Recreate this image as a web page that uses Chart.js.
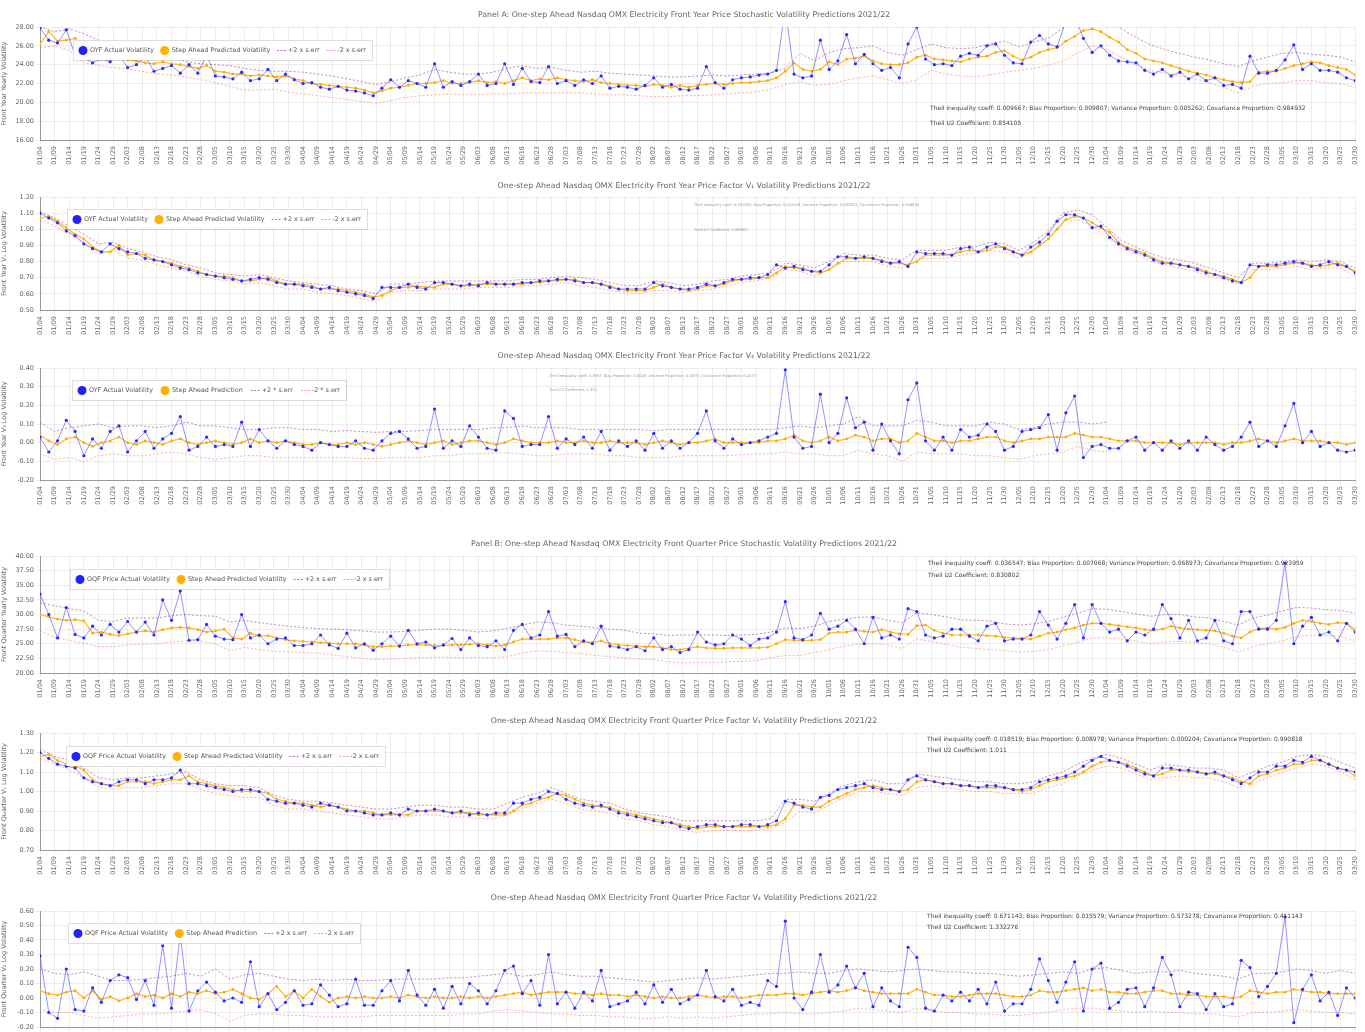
<!DOCTYPE html>
<html lang="en">
<head>
<meta charset="UTF-8">
<title>Nasdaq OMX Electricity Volatility Predictions 2021/22</title>
<script src="https://cdn.jsdelivr.net/npm/chart.js"></script>
<style>
  html, body { margin: 0; padding: 0; background: #fff; overflow: hidden; }
  body { width: 1365px; height: 1032px; position: relative; }
  canvas { position: absolute; left: 0; }
</style>
</head>
<body>
<canvas id="c1" width="1365" height="170" style="top:0px"></canvas>
<canvas id="c2" width="1365" height="170" style="top:170px"></canvas>
<canvas id="c3" width="1365" height="170" style="top:340px"></canvas>
<canvas id="c4" width="1365" height="175" style="top:528px"></canvas>
<canvas id="c5" width="1365" height="175" style="top:705px"></canvas>
<canvas id="c6" width="1365" height="175" style="top:882px"></canvas>

<script>
// x axis: days since 2021-01-04, a tick every 5 days
const tickLabels = ['01/04','01/09','01/14','01/19','01/24','01/29','02/03','02/08','02/13','02/18','02/23','02/28',
  '03/05','03/10','03/15','03/20','03/25','03/30','04/04','04/09','04/14','04/19','04/24','04/29','05/04','05/09',
  '05/14','05/19','05/24','05/29','06/03','06/08','06/13','06/18','06/23','06/28','07/03','07/08','07/13','07/18',
  '07/23','07/28','08/02','08/07','08/12','08/17','08/22','08/27','09/01','09/06','09/11','09/16','09/21','09/26',
  '10/01','10/06','10/11','10/16','10/21','10/26','10/31','11/05','11/10','11/15','11/20','11/25','11/30','12/05',
  '12/10','12/15','12/20','12/25','12/30','01/04','01/09','01/14','01/19','01/24','01/29','02/03','02/08','02/13',
  '02/18','02/23','02/28','03/05','03/10','03/15','03/20','03/25','03/30'];
const dayStep = 3;   // actual / predicted sampled every 3 days
const bandStep = 5;  // error bands sampled every 5 days

// ---- Panel A: front year, stochastic volatility
const yearSvActual = [
  27.9, 26.6, 26.3, 27.7, 25.0, 24.7, 24.2, 24.6, 24.3, 25.0,
  23.7, 24.0, 24.9, 23.3, 23.6, 23.9, 23.1, 24.0, 23.1, 25.0,
  22.8, 22.7, 22.5, 23.2, 22.3, 22.5, 23.5, 22.3, 23.0, 22.4,
  22.0, 22.1, 21.6, 21.4, 21.7, 21.3, 21.2, 21.0, 20.7, 21.5,
  22.4, 21.6, 22.3, 22.0, 21.6, 24.1, 21.6, 22.2, 21.8, 22.2,
  23.0, 21.8, 22.0, 24.1, 21.9, 23.6, 22.2, 22.1, 23.8, 22.0,
  22.3, 21.8, 22.4, 22.0, 22.8, 21.5, 21.7, 21.6, 21.4, 21.8,
  22.6, 21.6, 21.9, 21.4, 21.3, 21.5, 23.8, 22.1, 21.5, 22.4,
  22.6, 22.7, 22.9, 23.0, 23.4, 30.0, 23.0, 22.6, 22.8, 26.6,
  23.5, 24.4, 27.2, 24.1, 25.1, 24.1, 23.4, 23.7, 22.6, 26.2,
  28.0, 24.6, 24.0, 24.1, 23.9, 24.9, 25.2, 25.0, 26.0, 26.2,
  25.0, 24.2, 24.1, 26.4, 27.1, 26.2, 25.9, 28.6, 29.2, 26.8,
  25.3, 26.0, 25.0, 24.4, 24.3, 24.2, 23.4, 23.0, 23.5, 22.8,
  23.2, 22.5, 23.0, 22.3, 22.6, 21.8, 21.9, 21.5, 24.9, 23.1,
  23.1, 23.4, 24.5, 26.1, 23.5, 24.1, 23.4, 23.4, 23.2, 22.6,
  22.3];
const yearSvPred = [
  26.2, 27.5, 26.5, 26.6, 26.8, 26.0, 25.0, 24.8, 24.6, 24.6,
  24.5, 24.4, 24.2, 24.1, 24.3, 24.1, 24.0, 23.8, 23.6, 23.9,
  23.3, 23.2, 23.0, 23.0, 22.8, 22.9, 22.8, 22.7, 22.8, 22.5,
  22.3, 22.0, 21.9, 21.8, 21.7, 21.6, 21.5, 21.3, 21.0, 21.2,
  21.5, 21.6, 21.8, 22.0, 22.0, 22.1, 22.3, 22.0, 22.0, 22.1,
  22.3, 22.1, 22.2, 22.0, 22.3, 22.6, 22.3, 22.5, 22.4, 22.6,
  22.4, 22.3, 22.2, 22.4, 22.1, 22.0, 21.9, 21.8, 21.8, 21.7,
  21.9, 21.8, 21.6, 21.8, 21.6, 21.8, 21.9, 22.0, 21.9, 22.0,
  22.1, 22.1, 22.2, 22.3, 22.6, 23.3, 24.2, 23.5, 23.3, 23.5,
  24.3, 24.0, 24.6, 24.7, 24.9, 24.4, 24.1, 24.0, 24.0, 24.2,
  24.8, 25.0, 24.6, 24.5, 24.4, 24.3, 24.6, 24.8, 24.9, 25.3,
  25.5, 24.9, 24.5, 24.8, 25.3, 25.6, 25.8, 26.5, 27.0, 27.6,
  27.8, 27.5, 26.9, 26.4, 25.6, 25.2, 24.6, 24.4, 24.2, 23.9,
  23.6, 23.3, 23.1, 22.9, 22.6, 22.4, 22.2, 22.1, 22.2, 23.2,
  23.3, 23.3, 23.6, 23.9, 24.1, 24.3, 24.2, 23.9, 23.7, 23.5,
  22.9];
const yearSvUpper = [
  28.0, 27.5, 27.8, 27.3, 26.6, 26.3, 26.0, 25.6, 25.2, 24.8,
  24.3, 24.1, 24.0, 23.9, 23.6, 23.4, 23.3, 23.3, 23.2, 23.0,
  22.8, 22.5, 22.2, 21.9, 22.2, 22.6, 22.9, 23.5, 23.2, 23.0,
  23.0, 23.2, 23.6, 23.9, 23.6, 23.7, 23.4, 23.2, 23.3, 23.1,
  23.0, 22.9, 22.8, 22.7, 22.7, 22.8, 22.9, 22.8, 22.9, 23.0,
  23.1, 23.6, 25.2, 24.4, 25.3, 25.7, 25.8, 26.0, 25.3, 25.0,
  25.6, 26.2, 25.8, 25.7, 25.8, 26.2, 26.5, 25.9, 26.4, 26.8,
  27.9, 28.8, 29.1, 28.7, 27.8, 26.9, 26.1, 25.6, 25.2, 24.8,
  24.5, 24.1, 23.8, 24.4, 24.8, 25.2, 25.3, 25.1, 25.0, 24.8,
  24.3];
const yearSvLower = [
  25.8, 26.0, 25.5, 24.2, 23.9, 23.7, 23.5, 23.3, 23.0, 22.9,
  22.7, 22.4, 22.1, 21.7, 21.3, 21.3, 21.4, 21.1, 20.9, 20.7,
  20.5, 20.3, 20.1, 19.9, 20.2, 20.5, 20.7, 20.8, 20.9, 20.8,
  20.8, 20.9, 20.9, 21.0, 21.0, 21.0, 21.0, 21.0, 20.9, 20.8,
  20.8, 20.7, 20.6, 20.6, 20.7, 20.7, 20.8, 20.9, 21.0, 21.1,
  21.4, 21.9, 22.2, 21.8, 21.9, 22.3, 22.6, 22.8, 22.4, 22.0,
  22.4, 23.4, 23.0, 22.8, 22.7, 22.9, 23.2, 23.4, 23.6, 23.9,
  24.4, 25.2, 26.0, 25.6, 24.8, 24.0, 23.4, 23.1, 22.8, 22.5,
  22.1, 21.6, 21.0, 21.7, 22.0, 22.1, 22.3, 22.3, 22.1, 22.0,
  21.6];

// ---- front year, factor V1
const yearV1Actual = [
  1.10, 1.07, 1.04, 0.99, 0.96, 0.91, 0.88, 0.86, 0.91, 0.88,
  0.86, 0.85, 0.82, 0.81, 0.80, 0.78, 0.76, 0.75, 0.73, 0.72,
  0.71, 0.70, 0.69, 0.68, 0.69, 0.70, 0.69, 0.67, 0.66, 0.66,
  0.65, 0.64, 0.63, 0.64, 0.62, 0.61, 0.60, 0.59, 0.57, 0.64,
  0.64, 0.64, 0.66, 0.64, 0.63, 0.67, 0.67, 0.66, 0.65, 0.66,
  0.65, 0.67, 0.66, 0.66, 0.66, 0.67, 0.67, 0.68, 0.68, 0.69,
  0.69, 0.68, 0.67, 0.67, 0.66, 0.64, 0.63, 0.63, 0.63, 0.63,
  0.67, 0.65, 0.64, 0.63, 0.63, 0.64, 0.66, 0.65, 0.67, 0.69,
  0.69, 0.70, 0.70, 0.72, 0.78, 0.76, 0.77, 0.75, 0.74, 0.74,
  0.78, 0.83, 0.83, 0.82, 0.83, 0.82, 0.80, 0.79, 0.80, 0.77,
  0.86, 0.85, 0.85, 0.85, 0.84, 0.88, 0.89, 0.86, 0.89, 0.91,
  0.88, 0.86, 0.84, 0.89, 0.92, 0.97, 1.05, 1.09, 1.09, 1.07,
  1.01, 1.02, 0.95, 0.91, 0.88, 0.86, 0.84, 0.81, 0.79, 0.79,
  0.78, 0.77, 0.75, 0.73, 0.72, 0.70, 0.68, 0.67, 0.78, 0.77,
  0.78, 0.78, 0.79, 0.80, 0.79, 0.77, 0.78, 0.80, 0.78, 0.77,
  0.73];
const yearV1Pred = [
  1.07, 1.08, 1.05, 1.01, 0.97, 0.94, 0.89, 0.86, 0.86, 0.90,
  0.84, 0.85, 0.84, 0.81, 0.80, 0.79, 0.77, 0.76, 0.74, 0.72,
  0.71, 0.71, 0.70, 0.68, 0.68, 0.69, 0.70, 0.68, 0.66, 0.66,
  0.66, 0.65, 0.63, 0.63, 0.63, 0.62, 0.61, 0.60, 0.58, 0.59,
  0.62, 0.64, 0.64, 0.65, 0.64, 0.64, 0.66, 0.66, 0.65, 0.65,
  0.66, 0.66, 0.66, 0.66, 0.66, 0.66, 0.67, 0.67, 0.68, 0.68,
  0.69, 0.69, 0.67, 0.67, 0.66, 0.65, 0.63, 0.62, 0.62, 0.62,
  0.64, 0.66, 0.64, 0.63, 0.62, 0.63, 0.65, 0.65, 0.66, 0.68,
  0.69, 0.69, 0.70, 0.70, 0.73, 0.77, 0.76, 0.76, 0.74, 0.73,
  0.75, 0.79, 0.82, 0.82, 0.82, 0.82, 0.81, 0.79, 0.79, 0.78,
  0.80, 0.84, 0.84, 0.84, 0.84, 0.86, 0.87, 0.86, 0.87, 0.89,
  0.89, 0.86, 0.84, 0.86, 0.90, 0.94, 1.00, 1.06, 1.08, 1.07,
  1.04, 1.01, 0.98, 0.92, 0.89, 0.87, 0.85, 0.82, 0.80, 0.79,
  0.78, 0.77, 0.76, 0.74, 0.72, 0.71, 0.69, 0.67, 0.70, 0.77,
  0.77, 0.77, 0.78, 0.79, 0.79, 0.78, 0.77, 0.78, 0.79, 0.77,
  0.74];
const yearV1Upper = [
  1.11, 1.07, 1.02, 0.97, 0.91, 0.92, 0.88, 0.86, 0.83, 0.81,
  0.78, 0.76, 0.73, 0.72, 0.71, 0.72, 0.70, 0.68, 0.67, 0.66,
  0.65, 0.63, 0.62, 0.60, 0.66, 0.66, 0.67, 0.68, 0.68, 0.68,
  0.68, 0.68, 0.68, 0.69, 0.69, 0.70, 0.71, 0.70, 0.69, 0.67,
  0.65, 0.65, 0.68, 0.67, 0.65, 0.66, 0.68, 0.69, 0.71, 0.72,
  0.73, 0.79, 0.78, 0.76, 0.80, 0.85, 0.84, 0.84, 0.82, 0.81,
  0.87, 0.87, 0.87, 0.89, 0.89, 0.92, 0.91, 0.87, 0.92, 0.99,
  1.10, 1.12, 1.09, 1.01, 0.93, 0.89, 0.85, 0.82, 0.81, 0.79,
  0.76, 0.73, 0.70, 0.79, 0.79, 0.80, 0.81, 0.80, 0.81, 0.80,
  0.76];
const yearV1Lower = [
  1.06, 1.02, 0.97, 0.92, 0.85, 0.87, 0.82, 0.81, 0.78, 0.76,
  0.74, 0.71, 0.69, 0.68, 0.66, 0.67, 0.65, 0.63, 0.63, 0.61,
  0.60, 0.59, 0.57, 0.55, 0.61, 0.62, 0.62, 0.63, 0.63, 0.63,
  0.64, 0.64, 0.64, 0.65, 0.65, 0.66, 0.67, 0.65, 0.64, 0.62,
  0.61, 0.60, 0.62, 0.62, 0.61, 0.62, 0.63, 0.65, 0.67, 0.68,
  0.70, 0.75, 0.74, 0.71, 0.75, 0.80, 0.80, 0.80, 0.77, 0.76,
  0.82, 0.82, 0.82, 0.84, 0.85, 0.87, 0.86, 0.82, 0.86, 0.94,
  1.05, 1.06, 1.02, 0.95, 0.88, 0.85, 0.80, 0.78, 0.76, 0.74,
  0.71, 0.69, 0.66, 0.75, 0.75, 0.76, 0.77, 0.75, 0.76, 0.76,
  0.71];

// ---- front year, factor V2 (bands stop at 01/04/22)
const yearV2Actual = [
  0.03, -0.05, 0.01, 0.12, 0.06, -0.07, 0.02, -0.03, 0.06, 0.09,
  -0.05, 0.01, 0.06, -0.03, 0.02, 0.05, 0.14, -0.04, -0.02, 0.03,
  -0.02, -0.01, -0.02, 0.11, -0.02, 0.07, 0.01, -0.03, 0.01, -0.01,
  -0.02, -0.04, 0.00, -0.01, -0.02, -0.02, 0.01, -0.03, -0.04, 0.01,
  0.05, 0.06, 0.02, -0.03, -0.02, 0.18, -0.03, 0.01, -0.02, 0.09,
  0.03, -0.03, -0.04, 0.17, 0.13, -0.02, -0.01, -0.01, 0.14, -0.03,
  0.02, -0.01, 0.03, -0.03, 0.06, -0.04, 0.01, -0.02, 0.01, -0.04,
  0.05, -0.03, 0.01, -0.03, 0.00, 0.05, 0.17, 0.01, -0.03, 0.02,
  -0.01, 0.00, 0.01, 0.03, 0.05, 0.39, 0.03, -0.03, -0.02, 0.26,
  0.00, 0.05, 0.24, 0.08, 0.11, -0.04, 0.10, 0.01, -0.06, 0.23,
  0.32, 0.01, -0.04, 0.03, -0.04, 0.07, 0.03, 0.04, 0.10, 0.06,
  -0.04, -0.02, 0.06, 0.07, 0.08, 0.15, -0.04, 0.16, 0.25, -0.08,
  -0.02, -0.01, -0.03, -0.03, 0.01, 0.03, -0.04, 0.00, -0.04, 0.01,
  -0.03, 0.01, -0.04, 0.03, -0.01, -0.04, -0.02, 0.03, 0.11, -0.02,
  0.01, -0.02, 0.09, 0.21, 0.00, 0.06, -0.02, 0.00, -0.04, -0.05,
  -0.04];
const yearV2Pred = [
  0.04, 0.01, -0.01, 0.02, 0.03, 0.00, -0.02, 0.00, 0.01, 0.03,
  0.00, -0.01, 0.01, 0.00, -0.01, 0.01, 0.02, 0.00, -0.01, 0.00,
  0.01, 0.00, -0.01, 0.00, 0.02, 0.00, 0.01, 0.00, 0.01, 0.00,
  -0.01, -0.01, 0.00, -0.01, -0.01, 0.00, -0.01, 0.00, -0.01, -0.02,
  -0.01, 0.00, 0.01, 0.00, -0.01, 0.00, 0.01, -0.01, 0.00, 0.01,
  0.01, 0.00, -0.01, 0.00, 0.02, 0.01, 0.00, 0.00, 0.00, 0.01,
  0.00, 0.00, 0.01, 0.00, 0.00, 0.01, 0.00, 0.00, 0.00, -0.01,
  0.00, 0.01, 0.00, -0.01, 0.00, 0.00, 0.01, 0.02, 0.00, 0.00,
  0.00, 0.00, 0.00, 0.01, 0.01, 0.02, 0.04, 0.01, 0.00, 0.01,
  0.03, 0.01, 0.02, 0.04, 0.03, 0.01, 0.02, 0.02, 0.00, 0.01,
  0.05, 0.03, 0.01, 0.01, 0.00, 0.01, 0.01, 0.02, 0.03, 0.03,
  0.01, 0.00, 0.01, 0.02, 0.02, 0.03, 0.03, 0.03, 0.05, 0.04,
  0.03, 0.03, 0.02, 0.01, 0.01, 0.01, 0.00, 0.00, 0.00, 0.00,
  -0.01, 0.00, 0.00, 0.00, 0.00, -0.01, 0.00, 0.00, 0.01, 0.02,
  0.01, 0.00, 0.01, 0.02, 0.01, 0.01, 0.01, 0.00, 0.00, -0.01,
  0.00];
const yearV2Upper = [
  0.11, 0.06, 0.08, 0.09, 0.10, 0.08, 0.09, 0.09, 0.08, 0.09,
  0.11, 0.09, 0.09, 0.08, 0.07, 0.07, 0.08, 0.08, 0.07, 0.07,
  0.06, 0.065, 0.06, 0.055, 0.06, 0.06, 0.065, 0.07, 0.07, 0.07,
  0.07, 0.08, 0.08, 0.09, 0.08, 0.08, 0.08, 0.07, 0.07, 0.07,
  0.07, 0.07, 0.065, 0.07, 0.07, 0.07, 0.07, 0.07, 0.07, 0.07,
  0.07, 0.08, 0.09, 0.08, 0.09, 0.10, 0.14, 0.09, 0.09, 0.09,
  0.12, 0.11, 0.09, 0.09, 0.09, 0.11, 0.10, 0.07, 0.08, 0.10,
  0.11, 0.11, 0.10, 0.11];
const yearV2Lower = [
  -0.06, -0.09, -0.08, -0.10, -0.07, -0.06, -0.07, -0.07, -0.06, -0.05,
  -0.06, -0.08, -0.09, -0.08, -0.07, -0.07, -0.08, -0.08, -0.08, -0.08,
  -0.08, -0.08, -0.085, -0.085, -0.08, -0.08, -0.08, -0.07, -0.07, -0.06,
  -0.06, -0.055, -0.055, -0.06, -0.07, -0.07, -0.06, -0.06, -0.06, -0.07,
  -0.07, -0.08, -0.08, -0.08, -0.07, -0.07, -0.07, -0.07, -0.065, -0.06,
  -0.06, -0.05, -0.06, -0.06, -0.07, -0.07, -0.04, -0.06, -0.07, -0.10,
  -0.05, -0.06, -0.06, -0.06, -0.07, -0.07, -0.08, -0.09, -0.07, -0.06,
  -0.05, -0.02, -0.04, -0.05];

// ---- Panel B: front quarter, stochastic volatility
const qtrSvActual = [
  33.5, 30.0, 26.0, 31.2, 26.6, 26.0, 28.0, 26.5, 28.3, 27.0,
  28.8, 27.0, 28.7, 26.5, 32.5, 29.0, 34.0, 25.6, 25.7, 28.3,
  26.3, 25.8, 25.7, 30.0, 26.0, 26.5, 25.0, 25.8, 26.0, 24.7,
  24.7, 25.0, 26.5, 24.8, 24.2, 26.8, 24.3, 25.0, 23.9, 25.0,
  26.3, 24.6, 27.3, 25.0, 25.3, 24.3, 24.8, 25.9, 24.0, 26.0,
  24.7, 24.5, 25.5, 24.0, 27.3, 28.3, 26.0, 26.5, 30.5, 26.3,
  26.6, 24.5, 25.5, 25.0, 28.0, 24.6, 24.4, 24.0, 24.5, 23.8,
  26.0, 24.0, 24.5, 23.5, 24.0, 27.0, 25.3, 24.8, 25.0, 26.5,
  25.8, 24.7, 25.8, 26.0, 27.0, 32.2, 26.0, 25.7, 26.5, 30.2,
  27.5, 28.0, 29.0, 27.5, 25.0, 29.5, 26.0, 26.5, 25.8, 31.0,
  30.5, 26.5, 26.0, 26.3, 27.5, 27.5, 26.3, 25.5, 28.0, 28.5,
  25.5, 25.8, 25.8, 26.5, 30.5, 28.2, 25.8, 28.5, 31.7, 26.0,
  31.7, 28.5, 27.0, 27.5, 25.5, 27.0, 26.5, 27.5, 31.7, 29.3,
  26.0, 29.0, 25.5, 26.0, 29.0, 25.5, 25.0, 30.5, 30.5, 27.5,
  27.5, 29.0, 38.8, 25.0, 28.0, 29.5, 26.5, 27.0, 25.5, 28.5,
  27.0];
const qtrSvPred = [
  30.0, 29.6, 29.2, 29.0, 29.1, 28.9, 26.8, 27.0, 26.6, 26.4,
  26.7, 27.0, 27.2, 27.0, 27.4, 27.7, 27.8, 27.7, 27.4, 27.0,
  27.2, 27.5, 26.0, 25.8, 26.8, 26.3, 26.4, 26.0, 25.7, 25.5,
  25.4, 25.3, 25.2, 25.1, 25.0, 25.0, 25.0, 24.8, 24.5, 24.5,
  24.6, 24.6, 24.8, 24.8, 24.8, 24.7, 24.7, 24.8, 24.8, 24.9,
  25.0, 24.8, 24.6, 24.8, 25.3, 25.8, 25.8, 25.8, 25.8, 26.0,
  26.0, 25.7, 25.3, 25.2, 25.5, 25.0, 24.8, 24.7, 24.6, 24.5,
  24.5, 24.3, 24.0, 24.0, 24.2, 24.5, 24.3, 24.2, 24.2, 24.3,
  24.3, 24.3, 24.3, 24.4, 25.0, 25.7, 25.6, 25.5, 25.6, 25.7,
  26.8, 27.0, 27.0, 27.3, 27.1, 27.0, 27.4, 27.0, 26.7, 26.6,
  28.1, 28.2, 27.3, 26.8, 26.5, 26.5, 26.5, 26.5, 26.4, 26.3,
  26.1, 26.0, 25.9, 25.8, 26.3, 26.8, 27.0, 27.4, 27.7, 28.2,
  28.5, 28.5, 28.3, 28.1, 27.9, 27.7, 27.4, 27.3, 27.5, 28.0,
  27.7, 27.5, 27.4, 27.3, 27.2, 26.8, 26.3, 26.0, 27.0, 27.6,
  27.7, 27.5, 27.8, 28.5, 29.0, 28.8, 28.5, 28.3, 28.6, 28.5,
  27.5];
const qtrSvUpper = [
  32.0, 31.5, 31.0, 30.6, 29.0, 28.8, 29.4, 29.4, 29.4, 29.8,
  30.0, 29.8, 29.7, 28.7, 29.0, 28.6, 28.3, 28.0, 27.8, 27.6,
  27.5, 27.4, 27.2, 27.0, 27.0, 27.1, 27.3, 27.5, 27.5, 27.3,
  27.0, 27.2, 27.6, 28.2, 28.7, 28.6, 28.2, 28.0, 27.7, 27.5,
  27.3, 26.8, 26.7, 26.4, 26.5, 26.5, 26.5, 26.4, 26.5, 26.6,
  27.0, 27.7, 27.6, 28.0, 28.8, 29.2, 29.5, 29.6, 29.0, 28.6,
  30.3, 30.0, 29.6, 29.1, 29.0, 28.9, 28.4, 28.2, 28.4, 28.8,
  29.5, 30.2, 31.0, 30.9, 30.5, 30.1, 29.7, 30.0, 30.0, 29.6,
  29.4, 28.8, 28.2, 29.4, 29.9, 30.6, 31.2, 31.1, 30.8, 30.7,
  30.2];
const qtrSvLower = [
  27.2, 26.1, 25.6, 25.1, 24.5, 24.5, 24.8, 24.9, 25.0, 25.3,
  25.5, 25.5, 25.0, 23.8, 24.4, 24.0, 23.7, 23.6, 23.5, 23.4,
  23.1, 22.8, 22.5, 22.3, 22.4, 22.5, 22.6, 22.7, 22.7, 22.6,
  22.7, 22.6, 22.8, 23.4, 23.8, 23.7, 23.5, 23.3, 23.0, 22.8,
  22.6, 22.4, 22.3, 21.9, 21.7, 21.8, 21.8, 21.9, 22.0, 22.1,
  22.6, 23.0, 23.0, 23.5, 24.0, 24.6, 24.9, 25.0, 24.8, 24.2,
  25.8, 25.4, 24.9, 24.4, 24.2, 24.0, 23.8, 23.6, 23.7, 24.0,
  24.6, 25.2, 26.0, 26.0, 25.8, 25.5, 25.0, 25.3, 25.4, 25.2,
  25.0, 24.4, 23.6, 24.5, 25.0, 25.5, 26.2, 26.5, 26.4, 26.3,
  25.3];

// ---- front quarter, factor V1
const qtrV1Actual = [
  1.20, 1.17, 1.14, 1.13, 1.12, 1.07, 1.05, 1.04, 1.03, 1.05,
  1.06, 1.06, 1.04, 1.06, 1.06, 1.07, 1.11, 1.04, 1.04, 1.03,
  1.02, 1.01, 1.00, 1.01, 1.01, 1.00, 0.96, 0.95, 0.94, 0.94,
  0.93, 0.92, 0.94, 0.93, 0.92, 0.90, 0.90, 0.89, 0.88, 0.88,
  0.89, 0.88, 0.91, 0.90, 0.90, 0.91, 0.90, 0.89, 0.90, 0.88,
  0.89, 0.88, 0.89, 0.89, 0.94, 0.94, 0.96, 0.97, 1.00, 0.99,
  0.96, 0.94, 0.93, 0.92, 0.93, 0.91, 0.89, 0.88, 0.87, 0.86,
  0.85, 0.84, 0.84, 0.82, 0.81, 0.82, 0.83, 0.83, 0.82, 0.82,
  0.83, 0.83, 0.82, 0.83, 0.85, 0.95, 0.94, 0.92, 0.91, 0.97,
  0.98, 1.01, 1.02, 1.03, 1.04, 1.02, 1.01, 1.01, 1.00, 1.06,
  1.08, 1.06, 1.05, 1.04, 1.04, 1.03, 1.03, 1.02, 1.03, 1.03,
  1.02, 1.01, 1.01, 1.02, 1.05, 1.06, 1.07, 1.08, 1.10, 1.13,
  1.16, 1.18, 1.16, 1.15, 1.13, 1.11, 1.09, 1.08, 1.12, 1.12,
  1.11, 1.11, 1.10, 1.09, 1.10, 1.08, 1.06, 1.04, 1.07, 1.10,
  1.10, 1.13, 1.13, 1.16, 1.15, 1.18, 1.16, 1.14, 1.12, 1.11,
  1.10];
const qtrV1Pred = [
  1.18, 1.19, 1.16, 1.14, 1.13, 1.11, 1.06, 1.04, 1.03, 1.03,
  1.05, 1.05, 1.05, 1.04, 1.05, 1.06, 1.06, 1.08, 1.05, 1.04,
  1.03, 1.02, 1.01, 1.00, 1.00, 1.00, 0.99, 0.96, 0.95, 0.94,
  0.94, 0.93, 0.92, 0.93, 0.92, 0.91, 0.90, 0.90, 0.89, 0.88,
  0.88, 0.88, 0.88, 0.90, 0.90, 0.90, 0.90, 0.89, 0.89, 0.89,
  0.88, 0.88, 0.88, 0.88, 0.90, 0.93, 0.94, 0.96, 0.97, 0.99,
  0.98, 0.96, 0.94, 0.93, 0.92, 0.92, 0.90, 0.89, 0.88, 0.87,
  0.86, 0.85, 0.84, 0.83, 0.82, 0.81, 0.82, 0.82, 0.82, 0.82,
  0.82, 0.82, 0.82, 0.82, 0.83, 0.86, 0.93, 0.93, 0.92, 0.92,
  0.95, 0.97, 0.99, 1.01, 1.02, 1.03, 1.02, 1.01, 1.00, 1.01,
  1.05, 1.06, 1.05, 1.04, 1.04, 1.03, 1.03, 1.02, 1.02, 1.02,
  1.02, 1.01, 1.00, 1.01, 1.03, 1.05, 1.06, 1.07, 1.08, 1.10,
  1.13, 1.15, 1.16, 1.15, 1.14, 1.12, 1.10, 1.08, 1.09, 1.11,
  1.11, 1.10, 1.10, 1.09, 1.09, 1.08, 1.07, 1.05, 1.04, 1.08,
  1.09, 1.11, 1.12, 1.14, 1.14, 1.16, 1.16, 1.14, 1.12, 1.11,
  1.08];
const qtrV1Upper = [
  1.22, 1.18, 1.16, 1.12, 1.07, 1.06, 1.07, 1.07, 1.08, 1.09,
  1.10, 1.06, 1.04, 1.03, 1.03, 1.02, 0.98, 0.96, 0.95, 0.95,
  0.94, 0.93, 0.92, 0.91, 0.91, 0.92, 0.93, 0.93, 0.92, 0.92,
  0.91, 0.91, 0.94, 0.97, 0.99, 1.02, 0.99, 0.96, 0.95, 0.94,
  0.91, 0.89, 0.88, 0.87, 0.85, 0.85, 0.85, 0.85, 0.85, 0.85,
  0.86, 0.96, 0.96, 0.95, 0.99, 1.03, 1.05, 1.06, 1.04, 1.04,
  1.09, 1.08, 1.07, 1.06, 1.05, 1.05, 1.04, 1.04, 1.05, 1.08,
  1.10, 1.14, 1.17, 1.19, 1.17, 1.14, 1.11, 1.14, 1.13, 1.12,
  1.12, 1.11, 1.07, 1.10, 1.13, 1.15, 1.18, 1.19, 1.18, 1.15,
  1.12];
const qtrV1Lower = [
  1.17, 1.14, 1.11, 1.07, 1.02, 1.01, 1.02, 1.02, 1.03, 1.04,
  1.04, 1.01, 0.99, 0.98, 0.97, 0.97, 0.93, 0.91, 0.91, 0.90,
  0.89, 0.88, 0.87, 0.86, 0.86, 0.87, 0.88, 0.88, 0.87, 0.87,
  0.86, 0.86, 0.88, 0.91, 0.94, 0.96, 0.94, 0.91, 0.90, 0.89,
  0.86, 0.85, 0.83, 0.82, 0.80, 0.79, 0.80, 0.80, 0.80, 0.80,
  0.81, 0.84, 0.90, 0.89, 0.93, 0.97, 1.00, 1.00, 0.99, 0.98,
  1.02, 1.03, 1.02, 1.01, 1.00, 1.00, 0.99, 0.99, 0.99, 1.02,
  1.04, 1.08, 1.11, 1.13, 1.12, 1.09, 1.06, 1.07, 1.08, 1.07,
  1.07, 1.05, 1.02, 1.04, 1.07, 1.10, 1.12, 1.14, 1.13, 1.10,
  1.06];

// ---- front quarter, factor V2
const qtrV2Actual = [
  0.29, -0.10, -0.14, 0.20, -0.08, -0.09, 0.07, -0.03, 0.12, 0.16,
  0.14, -0.01, 0.12, -0.05, 0.36, -0.07, 0.44, -0.09, 0.05, 0.11,
  0.04, -0.02, 0.00, -0.03, 0.25, -0.06, 0.03, -0.08, -0.03, 0.05,
  -0.05, -0.04, 0.09, 0.02, -0.06, -0.04, 0.13, -0.05, -0.05, 0.05,
  0.12, -0.02, 0.19, 0.02, -0.05, 0.06, -0.07, 0.08, -0.04, 0.10,
  0.05, -0.04, 0.05, 0.19, 0.22, 0.03, 0.12, -0.05, 0.30, -0.04,
  0.04, -0.07, 0.04, -0.02, 0.19, -0.06, -0.04, -0.02, 0.04, -0.04,
  0.09, -0.03, 0.06, -0.04, -0.01, 0.02, 0.19, 0.01, -0.02, 0.06,
  -0.05, -0.03, -0.05, 0.12, 0.08, 0.53, 0.00, -0.08, 0.04, 0.30,
  0.04, 0.09, 0.22, 0.07, 0.17, -0.06, 0.07, -0.02, -0.06, 0.35,
  0.28, -0.07, -0.09, 0.02, -0.02, 0.04, -0.02, 0.06, -0.04, 0.11,
  -0.09, -0.04, -0.04, 0.06, 0.27, 0.12, -0.03, 0.11, 0.25, -0.09,
  0.20, 0.24, -0.07, -0.03, 0.06, 0.07, -0.06, 0.07, 0.28, 0.16,
  -0.06, 0.04, 0.03, -0.08, 0.03, -0.06, -0.04, 0.26, 0.21, 0.01,
  0.08, 0.17, 0.56, -0.17, 0.06, 0.16, -0.02, 0.04, -0.12, 0.07,
  0.00];
const qtrV2Pred = [
  0.05, 0.03, 0.02, 0.04, 0.05, 0.00, 0.05, -0.01, 0.01, -0.02,
  0.00, 0.03, 0.01, 0.02, 0.00, 0.03, 0.01, 0.04, 0.03, 0.05,
  0.03, 0.04, 0.06, 0.03, 0.00, -0.01, 0.03, 0.08, 0.01, 0.05,
  0.00, 0.06, 0.01, -0.03, 0.00, 0.01, 0.00, 0.01, 0.00, 0.00,
  0.01, 0.00, 0.02, 0.01, 0.00, 0.01, 0.00, 0.00, 0.01, 0.00,
  0.01, 0.00, 0.01, 0.02, 0.03, 0.04, 0.02, 0.03, 0.04, 0.04,
  0.04, 0.03, 0.03, 0.02, 0.03, 0.02, 0.02, 0.01, 0.02, 0.01,
  0.00, 0.01, 0.00, 0.00, 0.01, 0.02, 0.01, 0.00, 0.01, 0.01,
  0.00, 0.01, 0.02, 0.02, 0.02, 0.03, 0.03, 0.02, 0.03, 0.04,
  0.05, 0.04, 0.05, 0.07, 0.05, 0.04, 0.03, 0.03, 0.03, 0.03,
  0.06, 0.04, 0.02, 0.02, 0.01, 0.01, 0.02, 0.03, 0.03, 0.03,
  0.02, 0.01, 0.01, 0.02, 0.05, 0.04, 0.04, 0.05, 0.06, 0.07,
  0.05, 0.06, 0.04, 0.04, 0.03, 0.03, 0.04, 0.05, 0.05, 0.03,
  0.03, 0.02, 0.02, 0.01, 0.01, 0.01, 0.00, 0.01, 0.05, 0.04,
  0.03, 0.04, 0.04, 0.06, 0.05, 0.04, 0.04, 0.03, 0.03, 0.03,
  0.03];
const qtrV2Upper = [
  0.20, 0.17, 0.16, 0.18, 0.15, 0.12, 0.12, 0.13, 0.14, 0.15,
  0.17, 0.15, 0.20, 0.13, 0.16, 0.17, 0.15, 0.13, 0.12, 0.13,
  0.12, 0.13, 0.12, 0.12, 0.13, 0.13, 0.13, 0.13, 0.14, 0.14,
  0.15, 0.16, 0.17, 0.15, 0.16, 0.18, 0.16, 0.15, 0.15, 0.14,
  0.13, 0.12, 0.11, 0.12, 0.13, 0.14, 0.13, 0.14, 0.15, 0.16,
  0.17, 0.17, 0.18, 0.17, 0.17, 0.19, 0.20, 0.19, 0.18, 0.19,
  0.20, 0.19, 0.18, 0.18, 0.17, 0.17, 0.16, 0.15, 0.16, 0.17,
  0.18, 0.17, 0.20, 0.21, 0.19, 0.17, 0.18, 0.18, 0.19, 0.17,
  0.16, 0.15, 0.13, 0.17, 0.17, 0.18, 0.20, 0.19, 0.17, 0.19,
  0.17];
const qtrV2Lower = [
  -0.08, -0.10, -0.10, -0.12, -0.14, -0.13, -0.12, -0.11, -0.11, -0.10,
  -0.09, -0.08, -0.11, -0.16, -0.12, -0.11, -0.11, -0.12, -0.12, -0.13,
  -0.13, -0.13, -0.13, -0.12, -0.12, -0.12, -0.12, -0.12, -0.12, -0.11,
  -0.11, -0.09, -0.08, -0.09, -0.10, -0.11, -0.11, -0.12, -0.12, -0.13,
  -0.13, -0.14, -0.14, -0.13, -0.14, -0.13, -0.14, -0.13, -0.12, -0.11,
  -0.11, -0.10, -0.11, -0.11, -0.10, -0.09, -0.07, -0.08, -0.09, -0.10,
  -0.07, -0.09, -0.10, -0.10, -0.11, -0.11, -0.12, -0.12, -0.11, -0.10,
  -0.08, -0.07, -0.07, -0.08, -0.09, -0.10, -0.09, -0.10, -0.10, -0.11,
  -0.11, -0.12, -0.13, -0.10, -0.10, -0.09, -0.08, -0.09, -0.10, -0.10,
  -0.11];

const FONT = '"DejaVu Sans", sans-serif';

function pts(vals, step) {
  return vals.map((v, i) => ({ x: i * step, y: v }));
}

// title, legend box and Theil statistics drawn on top of each panel
const panelDeco = {
  id: 'panelDeco',
  afterDraw(chart, args, o) {
    const ctx = chart.ctx;
    ctx.save();
    ctx.textBaseline = 'middle';

    ctx.font = '7.8px ' + FONT;
    ctx.fillStyle = '#666';
    ctx.textAlign = 'center';
    ctx.fillText(o.title, 684, o.titleY);

    // legend
    const lg = o.legend;
    ctx.font = '6.4px ' + FONT;
    ctx.textAlign = 'left';
    let content = 0;
    lg.items.forEach(it => { content += 11 + ctx.measureText(it.text).width; });
    const gap = (lg.w - 12 - content) / (lg.items.length - 1);
    ctx.fillStyle = '#fff';
    ctx.fillRect(lg.x, lg.y, lg.w, 20);
    ctx.strokeStyle = 'rgba(0,0,0,0.13)';
    ctx.lineWidth = 1;
    ctx.strokeRect(lg.x + 0.5, lg.y + 0.5, lg.w, 20);
    let x = lg.x + 6;
    const cy = lg.y + 10.5;
    lg.items.forEach(it => {
      if (it.dot) {
        ctx.beginPath();
        ctx.arc(x + 4, cy, 4.5, 0, Math.PI * 2);
        ctx.fillStyle = it.color;
        ctx.fill();
      } else {
        ctx.beginPath();
        ctx.setLineDash([2, 1.5]);
        ctx.strokeStyle = it.color;
        ctx.moveTo(x, cy);
        ctx.lineTo(x + 9, cy);
        ctx.stroke();
        ctx.setLineDash([]);
      }
      x += 11;
      ctx.fillStyle = '#555';
      ctx.fillText(it.text, x, cy);
      x += ctx.measureText(it.text).width + gap;
    });

    // Theil statistics
    const th = o.theil;
    ctx.font = th.size + 'px ' + FONT;
    ctx.fillStyle = th.color;
    ctx.fillText(th.line1, th.x, th.y1);
    ctx.fillText(th.line2, th.x, th.y2);
    ctx.restore();
  }
};

function legendItems(actualName, predName, band) {
  return [
    { dot: true, color: '#2222ff', text: actualName },
    { dot: true, color: '#ffb000', text: predName },
    { dot: false, color: 'rgba(170,90,180,0.9)', text: '+2 ' + band + ' s.err' },
    { dot: false, color: 'rgba(255,130,110,0.8)', text: '-2 ' + band + ' s.err' }
  ];
}

function makePanel(id, c) {
  const grid = { color: 'rgba(0,0,0,0.07)', tickLength: 4 };
  new Chart(document.getElementById(id), {
    type: 'line',
    data: {
      datasets: [
        { data: pts(c.actual, dayStep), borderColor: 'rgba(60,60,255,0.55)', borderWidth: 1,
          pointRadius: 1.6, pointBackgroundColor: '#2a2aff', pointBorderWidth: 0, tension: 0 },
        { data: pts(c.pred, dayStep), borderColor: 'rgba(255,170,0,0.85)', borderWidth: 1.2,
          pointRadius: 1.4, pointBackgroundColor: '#ffaa00', pointBorderWidth: 0, tension: 0 },
        { data: pts(c.upper, bandStep), borderColor: 'rgba(175,95,185,0.75)', borderWidth: 1,
          borderDash: [2, 2], pointRadius: 0, tension: 0 },
        { data: pts(c.lower, bandStep), borderColor: 'rgba(255,135,115,0.65)', borderWidth: 1,
          borderDash: [2, 2], pointRadius: 0, tension: 0 }
      ]
    },
    options: {
      responsive: false,
      animation: false,
      layout: { padding: { top: c.padTop, right: 9, left: 0, bottom: 0 } },
      plugins: {
        legend: { display: false },
        tooltip: { enabled: false },
        title: { display: false },
        panelDeco: { title: c.title, titleY: c.titleY, legend: c.legend, theil: c.theil }
      },
      scales: {
        x: {
          type: 'linear', min: 0, max: 450,
          afterFit: s => { s.height = 30; },
          border: { color: '#999' },
          grid: grid,
          ticks: {
            stepSize: 5, autoSkip: false, maxTicksLimit: 200, maxRotation: 90, minRotation: 90,
            padding: 2, color: '#666', font: { size: 6.5, family: FONT },
            callback: v => tickLabels[Math.round(v / 5)]
          }
        },
        y: {
          min: c.yMin, max: c.yMax,
          afterFit: s => { s.width = 40; },
          border: { color: '#999' },
          grid: grid,
          ticks: { stepSize: c.yStep, padding: 2, color: '#666', font: { size: 6.5, family: FONT },
                   callback: v => v.toFixed(2) },
          title: { display: true, text: c.yTitle, color: '#666', padding: 0, font: { size: 6.5, family: FONT } }
        }
      }
    },
    plugins: [panelDeco]
  });
}

makePanel('c1', {
  actual: yearSvActual, pred: yearSvPred, upper: yearSvUpper, lower: yearSvLower,
  yMin: 16, yMax: 28, yStep: 2, yTitle: 'Front Year Yearly Volatility', padTop: 27, titleY: 15,
  title: 'Panel A: One-step Ahead Nasdaq OMX Electricity Front Year Price Stochastic Volatility Predictions 2021/22',
  legend: { x: 73, y: 40, w: 299, items: legendItems('OYF Actual Volatility', 'Step Ahead Predicted Volatility', 'x') },
  theil: { x: 930, y1: 108, y2: 123, size: 6, color: '#444',
    line1: 'Theil inequality coeff: 0.009667; Bias Proportion: 0.009807; Variance Proportion: 0.005262; Covariance Proportion: 0.984932',
    line2: 'Theil U2 Coefficient: 0.854105' }
});
makePanel('c2', {
  actual: yearV1Actual, pred: yearV1Pred, upper: yearV1Upper, lower: yearV1Lower,
  yMin: 0.5, yMax: 1.2, yStep: 0.1, yTitle: 'Front Year V\u2081 Log Volatility', padTop: 27, titleY: 16,
  title: 'One-step Ahead Nasdaq OMX Electricity Front Year Price Factor V\u2081 Volatility Predictions 2021/22',
  legend: { x: 67, y: 39, w: 300, items: legendItems('OYF Actual Volatility', 'Step Ahead Predicted Volatility', 'x') },
  theil: { x: 694, y1: 35, y2: 60, size: 3.6, color: '#9a9a9a',
    line1: 'Theil inequality coeff: 0.031592; Bias Proportion: 0.015548; Variance Proportion: 0.033622; Covariance Proportion: 0.948835',
    line2: 'Theil U2 Coefficient: 0.868857' }
});
makePanel('c3', {
  actual: yearV2Actual, pred: yearV2Pred, upper: yearV2Upper, lower: yearV2Lower,
  yMin: -0.2, yMax: 0.4, yStep: 0.1, yTitle: 'Front Year V\u2082 Log Volatility', padTop: 28, titleY: 16,
  title: 'One-step Ahead Nasdaq OMX Electricity Front Year Price Factor V\u2082 Volatility Predictions 2021/22',
  legend: { x: 72, y: 40, w: 274, items: legendItems('OYF Actual Volatility', 'Step Ahead Prediction', '*') },
  theil: { x: 549, y1: 36, y2: 50, size: 3.6, color: '#9a9a9a',
    line1: 'Theil inequality coeff: 0.8092; Bias Proportion: 0.0049; Variance Proportion: 0.5879; Covariance Proportion: 0.4073',
    line2: 'Theil U2 Coefficient: 1.325' }
});
makePanel('c4', {
  actual: qtrSvActual, pred: qtrSvPred, upper: qtrSvUpper, lower: qtrSvLower,
  yMin: 20, yMax: 40, yStep: 2.5, yTitle: 'Front Quarter Yearly Volatility', padTop: 28, titleY: 16,
  title: 'Panel B: One-step Ahead Nasdaq OMX Electricity Front Quarter Price Stochastic Volatility Predictions 2021/22',
  legend: { x: 70, y: 41, w: 319, items: legendItems('OQF Price Actual Volatility', 'Step Ahead Predicted Volatility', 'x') },
  theil: { x: 928, y1: 35, y2: 47, size: 6, color: '#444',
    line1: 'Theil inequality coeff: 0.036547; Bias Proportion: 0.007068; Variance Proportion: 0.068973; Covariance Proportion: 0.923959',
    line2: 'Theil U2 Coefficient: 0.830802' }
});
makePanel('c5', {
  actual: qtrV1Actual, pred: qtrV1Pred, upper: qtrV1Upper, lower: qtrV1Lower,
  yMin: 0.7, yMax: 1.3, yStep: 0.1, yTitle: 'Front Quarter V\u2081 Log Volatility', padTop: 28, titleY: 16,
  title: 'One-step Ahead Nasdaq OMX Electricity Front Quarter Price Factor V\u2081 Volatility Predictions 2021/22',
  legend: { x: 66, y: 41, w: 319, items: legendItems('OQF Price Actual Volatility', 'Step Ahead Predicted Volatility', 'x') },
  theil: { x: 927, y1: 34, y2: 45, size: 6, color: '#444',
    line1: 'Theil inequality coeff: 0.018519; Bias Proportion: 0.008978; Variance Proportion: 0.000204; Covariance Proportion: 0.990818',
    line2: 'Theil U2 Coefficient: 1.011' }
});
makePanel('c6', {
  actual: qtrV2Actual, pred: qtrV2Pred, upper: qtrV2Upper, lower: qtrV2Lower,
  yMin: -0.2, yMax: 0.6, yStep: 0.1, yTitle: 'Front Quarter V\u2082 Log Volatility', padTop: 29, titleY: 16,
  title: 'One-step Ahead Nasdaq OMX Electricity Front Quarter Price Factor V\u2082 Volatility Predictions 2021/22',
  legend: { x: 68, y: 41, w: 292, items: legendItems('OQF Price Actual Volatility', 'Step Ahead Prediction', 'x') },
  theil: { x: 927, y1: 34, y2: 45, size: 6, color: '#444',
    line1: 'Theil inequality coeff: 0.671143; Bias Proportion: 0.015579; Variance Proportion: 0.573278; Covariance Proportion: 0.411143',
    line2: 'Theil U2 Coefficient: 1.332276' }
});
</script>
</body>
</html>
